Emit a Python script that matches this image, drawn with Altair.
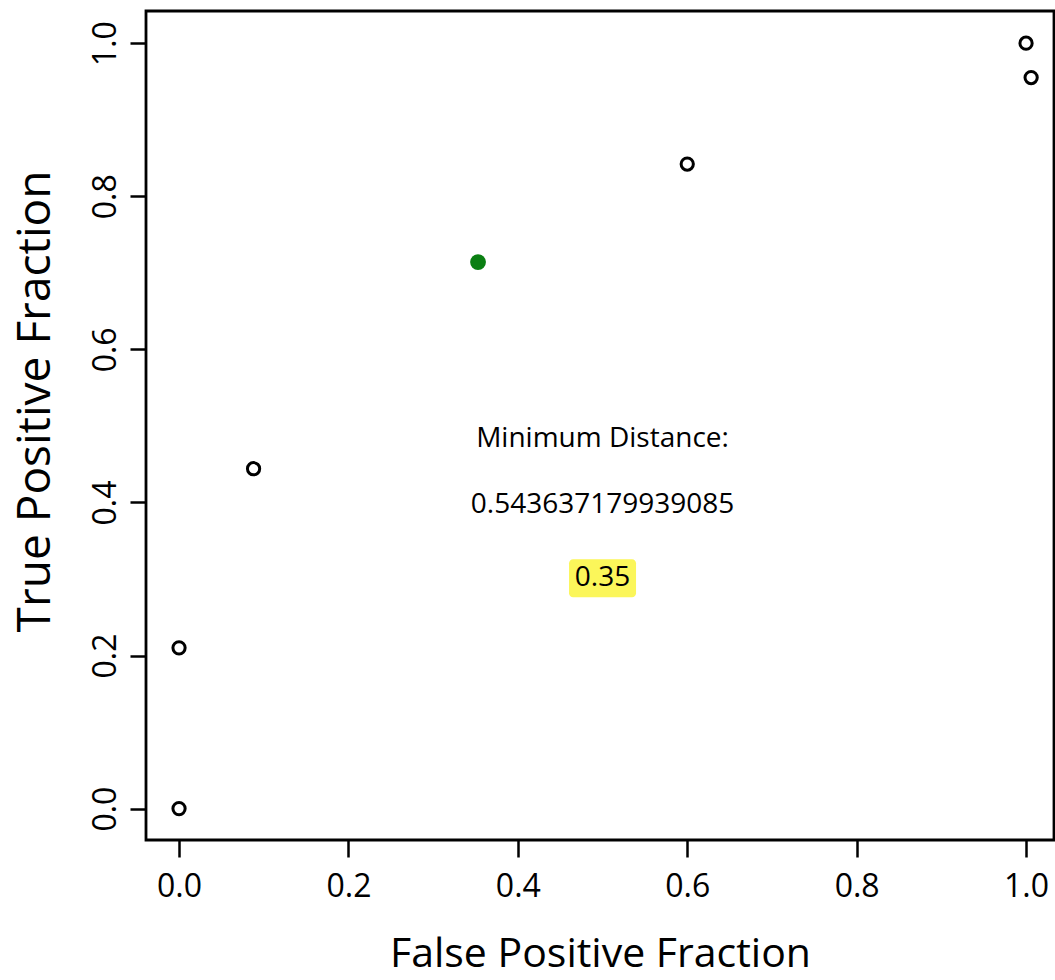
import altair as alt
import pandas as pd

# ROC operating points (false positive fraction, true positive fraction)
fpf = [0.0, 0.0, 0.088, 0.6, 1.0, 1.006]
tpf = [0.0, 0.21, 0.444, 0.842, 1.0, 0.955]

# point closest to the top-left corner
best_fpf = [0.353]
best_tpf = [0.714]

# annotation text
note_lines = ["Minimum Distance:", "0.543637179939085"]
note_y = [0.473, 0.386]
threshold_label = ["0.35"]
threshold_y = [0.301]
note_x = 0.5

ticks = [0.0, 0.2, 0.4, 0.6, 0.8, 1.0]
FONT = "Open Sans"

pts = pd.DataFrame({"fpf": fpf, "tpf": tpf})
best = pd.DataFrame({"fpf": best_fpf, "tpf": best_tpf})
notes = pd.DataFrame({"x": [note_x] * len(note_lines), "y": note_y, "t": note_lines})
thr = pd.DataFrame({"x": [note_x], "y": threshold_y, "t": threshold_label})

xs = alt.Scale(domain=[-0.039, 1.033], nice=False, zero=False)
ys = alt.Scale(domain=[-0.041, 1.042], nice=False, zero=False)

x_axis = alt.Axis(
    values=ticks, format=".1f", grid=False, domain=False,
    tickColor="black", tickWidth=2.5, tickSize=17,
    labelFont=FONT, labelFontSize=32, labelColor="black",
    labelBaseline="alphabetic", labelPadding=39,
    title="False Positive Fraction", titleFont=FONT, titleFontSize=41,
    titleFontWeight="normal", titleColor="black",
    titleBaseline="alphabetic", titleY=126,
)
y_axis = alt.Axis(
    values=ticks, format=".1f", grid=False, domain=False,
    tickColor="black", tickWidth=2.5, tickSize=16,
    labelFont=FONT, labelFontSize=32, labelColor="black",
    labelAngle=-90, labelAlign="center", labelBaseline="alphabetic",
    labelPadding=15,
    title="True Positive Fraction", titleFont=FONT, titleFontSize=46,
    titleFontWeight="normal", titleColor="black",
    titleAngle=-90, titleBaseline="alphabetic", titleAlign="center",
    titleX=-97, titleY=390,
)

open_pts = alt.Chart(pts).mark_point(
    shape="circle", filled=False, size=150, strokeWidth=3, color="black", opacity=1
).encode(
    x=alt.X("fpf:Q", scale=xs, axis=x_axis),
    y=alt.Y("tpf:Q", scale=ys, axis=y_axis),
)

best_pt = alt.Chart(best).mark_circle(size=250, color="#0a7f12", opacity=1).encode(
    x=alt.X("fpf:Q", scale=xs), y=alt.Y("tpf:Q", scale=ys)
)

note_text = alt.Chart(notes).mark_text(
    font=FONT, fontSize=28, color="black", align="center", baseline="alphabetic"
).encode(x=alt.X("x:Q", scale=xs), y=alt.Y("y:Q", scale=ys), text="t:N")

thr_box = alt.Chart(thr).mark_rect(
    width=67, height=38, color="#fbf65a", cornerRadius=4
).encode(x=alt.X("x:Q", scale=xs), y=alt.Y("y:Q", scale=ys))

thr_text = alt.Chart(thr).mark_text(
    font=FONT, fontSize=28, color="black", align="center", baseline="middle"
).encode(x=alt.X("x:Q", scale=xs), y=alt.Y("y:Q", scale=ys), text="t:N")

chart = alt.layer(open_pts, best_pt, thr_box, thr_text, note_text).properties(
    width=908,
    height=829,
    autosize=alt.AutoSizeParams(type="none"),
    padding={"left": 146, "top": 11, "right": 1, "bottom": 140},
    background="white",
).configure_view(stroke="black", strokeWidth=2.8)

chart.save("out.html", embed_options={"renderer": "svg", "actions": False})
